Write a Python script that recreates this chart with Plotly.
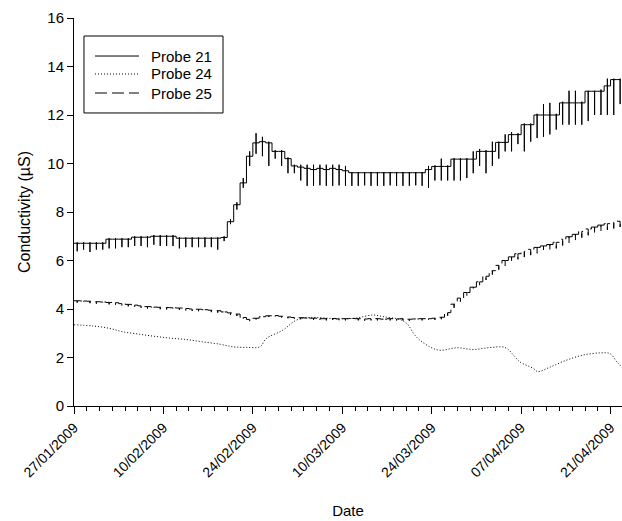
import pandas as pd
import plotly.graph_objects as go

# ---------------- data ----------------
start_date = "2009-01-27"
series_names = ["Probe 21", "Probe 24", "Probe 25"]

# Probe 21: daily level, daily downward spike minimum and upward excursion maximum
p21_day = list(range(0, 86))
p21_level = [6.71, 6.71, 6.71, 6.71, 6.71, 6.88, 6.88, 6.88, 6.88, 6.96,
             6.96, 6.96, 7.00, 7.00, 7.00, 7.00, 6.92, 6.92, 6.92, 6.92,
             6.92, 6.92, 6.92, 6.95, 7.60, 8.30, 9.20, 10.30, 10.85, 10.90,
             10.85, 10.50, 10.50, 10.20, 9.90, 9.85, 9.80, 9.75, 9.80, 9.75,
             9.80, 9.75, 9.70, 9.62, 9.62, 9.62, 9.62, 9.62, 9.62, 9.62,
             9.62, 9.62, 9.62, 9.62, 9.62, 9.75, 9.88, 9.88, 9.88, 10.18,
             10.18, 10.18, 10.18, 10.50, 10.50, 10.50, 10.87, 10.87, 11.19, 11.19,
             11.60, 11.60, 12.00, 12.00, 12.00, 12.00, 12.50, 12.50, 12.50, 12.50,
             12.98, 12.98, 12.98, 13.20, 13.46, 13.46]
p21_low = [6.38, 6.45, 6.35, 6.45, 6.45, 6.50, 6.50, 6.55, 6.55, 6.60,
           6.60, 6.55, 6.65, 6.60, 6.60, 6.60, 6.50, 6.55, 6.55, 6.55,
           6.55, 6.55, 6.45, 6.80, 7.50, 8.10, 9.00, 9.90, 10.40, 10.30,
           9.90, 10.20, 9.90, 9.60, 9.60, 9.30, 9.08, 9.08, 9.10, 9.08,
           9.08, 9.10, 9.08, 9.08, 9.08, 9.10, 9.08, 9.08, 9.08, 9.10,
           9.08, 9.08, 9.08, 9.10, 9.08, 9.00, 9.30, 9.30, 9.30, 9.30,
           9.30, 9.40, 9.60, 9.90, 9.60, 9.90, 10.20, 10.50, 10.50, 10.80,
           10.50, 10.90, 11.05, 11.10, 11.20, 11.40, 11.60, 11.60, 11.60, 11.60,
           11.75, 12.00, 12.00, 12.00, 12.00, 12.45]
p21_high = [6.75, 6.75, 6.75, 6.75, 6.75, 6.92, 6.92, 6.92, 6.92, 7.00,
            7.00, 7.00, 7.05, 7.05, 7.05, 7.05, 6.95, 6.95, 6.95, 6.95,
            6.95, 6.95, 6.95, 7.00, 7.70, 8.40, 9.40, 10.50, 11.25, 11.10,
            10.90, 10.55, 10.55, 10.25, 9.95, 9.95, 9.95, 9.95, 9.95, 9.95,
            9.95, 9.95, 9.90, 9.65, 9.65, 9.65, 9.65, 9.65, 9.65, 9.65,
            9.65, 9.65, 9.65, 9.65, 9.65, 9.90, 9.92, 10.20, 9.92, 10.22,
            10.22, 10.22, 10.50, 10.60, 10.55, 10.90, 10.90, 11.20, 11.30, 11.25,
            11.65, 11.65, 12.05, 12.45, 12.50, 12.05, 12.55, 13.00, 13.00, 12.55,
            13.00, 13.00, 13.05, 13.50, 13.50, 13.50]

# Probe 24: smooth curve, (day offset, value)
p24_day = [0, 3, 5.6, 7.6, 10, 12.4, 15, 17.6, 20, 22.8,
           24.9, 27, 29.1, 30.1, 32.7, 34.8, 36.9, 41.1, 44, 46.8,
           48.5, 51, 52.1, 53.6, 55.7, 57.3, 59.9, 62.5, 65.1, 67.5,
           68.8, 69.8, 71.9, 72.6, 74.5, 77.1, 79.7, 82.4, 83.9, 85.0, 85.8]
p24_value = [3.35, 3.30, 3.20, 3.06, 2.97, 2.88, 2.80, 2.74, 2.65, 2.55,
             2.44, 2.42, 2.44, 2.78, 3.13, 3.54, 3.65, 3.60, 3.62, 3.75,
             3.68, 3.57, 3.40, 2.85, 2.44, 2.30, 2.40, 2.33, 2.41, 2.41,
             2.10, 1.82, 1.55, 1.42, 1.60, 1.89, 2.10, 2.19, 2.16, 1.82, 1.60]

# Probe 25: daily level and small downward spike minimum
p25_day = list(range(0, 86))
p25_level = [4.34, 4.33, 4.32, 4.30, 4.29, 4.27, 4.26, 4.22, 4.19, 4.16,
             4.13, 4.10, 4.08, 4.07, 4.06, 4.05, 4.04, 4.02, 4.00, 3.99,
             3.97, 3.95, 3.93, 3.88, 3.84, 3.79, 3.65, 3.57, 3.62, 3.68,
             3.72, 3.73, 3.70, 3.67, 3.65, 3.64, 3.63, 3.62, 3.60, 3.60,
             3.61, 3.59, 3.60, 3.61, 3.60, 3.59, 3.60, 3.60, 3.58, 3.60,
             3.59, 3.60, 3.58, 3.59, 3.60, 3.60, 3.62, 3.66, 3.85, 4.20,
             4.45, 4.68, 4.90, 5.12, 5.35, 5.58, 5.80, 6.00, 6.15, 6.28,
             6.38, 6.46, 6.54, 6.60, 6.66, 6.75, 6.88, 6.98, 7.08, 7.20,
             7.30, 7.38, 7.46, 7.52, 7.58, 7.62]
p25_low = [4.26, 4.25, 4.24, 4.22, 4.21, 4.19, 4.18, 4.14, 4.11, 4.08,
           4.05, 4.02, 4.00, 3.99, 3.98, 3.97, 3.96, 3.94, 3.92, 3.91,
           3.89, 3.87, 3.85, 3.80, 3.76, 3.71, 3.58, 3.50, 3.57, 3.63,
           3.67, 3.68, 3.65, 3.62, 3.60, 3.58, 3.56, 3.55, 3.53, 3.53,
           3.55, 3.52, 3.53, 3.55, 3.53, 3.52, 3.53, 3.53, 3.51, 3.53,
           3.52, 3.53, 3.51, 3.52, 3.53, 3.53, 3.55, 3.58, 3.72, 4.05,
           4.30, 4.52, 4.75, 4.97, 5.20, 5.42, 5.62, 5.78, 5.92, 6.05,
           6.14, 6.22, 6.30, 6.36, 6.42, 6.50, 6.62, 6.72, 6.82, 6.94,
           7.04, 7.12, 7.20, 7.26, 7.32, 7.38]

tick_labels = ["27/01/2009", "10/02/2009", "24/02/2009", "10/03/2009",
               "24/03/2009", "07/04/2009", "21/04/2009"]
x_end = "2009-04-22 19:00"

# ---------------- build traces ----------------
base = pd.Timestamp(start_date)


def to_dates(days):
    return [base + pd.Timedelta(days=float(d)) for d in days]


def spiky(days, level, low, high=None):
    xs, ys = [], []
    for i, d in enumerate(days):
        hi = level[i] if high is None else high[i]
        xs += [d, d + 0.5, d + 0.5, d + 0.5, d + 0.5]
        ys += [level[i], level[i], low[i], hi, level[i]]
    return to_dates(xs), ys


x21, y21 = spiky(p21_day, p21_level, p21_low, p21_high)
x25, y25 = spiky(p25_day, p25_level, p25_low)

font_family = "Liberation Sans, Arial, sans-serif"
dash_styles = ["solid", "1px,2px", "12px,5px"]

fig = go.Figure()
fig.add_trace(go.Scatter(x=x21, y=y21, mode="lines", name=series_names[0],
                         line=dict(color="black", width=1, shape="hv", dash=dash_styles[0])))
fig.add_trace(go.Scatter(x=to_dates(p24_day), y=p24_value, mode="lines",
                         name=series_names[1], line_shape="spline",
                         line=dict(color="black", width=1, dash=dash_styles[1])))
fig.add_trace(go.Scatter(x=x25, y=y25, mode="lines", name=series_names[2],
                         line=dict(color="black", width=1, dash=dash_styles[2], shape="hv")))

tick_dates = [pd.to_datetime(t, format="%d/%m/%Y") for t in tick_labels]

# legend box drawn in paper coordinates (framed box, line samples, labels)
shapes = [dict(type="rect", xref="paper", yref="paper",
               x0=0.0182, x1=0.2719, y0=0.7552, y1=0.9536,
               line=dict(color="black", width=1), fillcolor="white", layer="above")]
annotations = []
legend_rows = [0.902, 0.8557, 0.8067]
for name, dash, yrow in zip(series_names, dash_styles, legend_rows):
    shapes.append(dict(type="line", xref="paper", yref="paper",
                       x0=0.0383, x1=0.1186, y0=yrow, y1=yrow,
                       line=dict(color="black", width=1, dash=dash), layer="above"))
    annotations.append(dict(text=name, xref="paper", yref="paper",
                            x=0.1369, y=yrow, xanchor="left", yanchor="middle",
                            showarrow=False, font=dict(size=15, color="black")))

fig.update_layout(
    width=622, height=521,
    margin=dict(l=74, r=0, t=18, b=115),
    paper_bgcolor="white", plot_bgcolor="white",
    font=dict(family=font_family, size=15, color="black"),
    showlegend=False,
    shapes=shapes,
    annotations=annotations,
    xaxis=dict(
        range=[base, pd.Timestamp(x_end)],
        tickvals=tick_dates, ticktext=tick_labels, tickangle=-45,
        ticks="outside", ticklen=7, tickcolor="black", tickwidth=1,
        minor=dict(dtick=2 * 86400000, tick0=start_date, ticks="outside",
                   ticklen=4, tickcolor="black", showgrid=False),
        showline=True, linecolor="black", linewidth=1,
        showgrid=False, zeroline=False,
        title=dict(text="Date", font=dict(size=15), standoff=26),
        tickfont=dict(size=14),
        automargin=False,
    ),
    yaxis=dict(
        range=[0, 16], tickvals=[0, 2, 4, 6, 8, 10, 12, 14, 16],
        ticks="outside", ticklen=6, tickcolor="black",
        showline=True, linecolor="black", linewidth=1,
        showgrid=False, zeroline=False,
        title=dict(text="Conductivity (µS)", font=dict(size=16), standoff=12),
        tickfont=dict(size=15),
        automargin=False,
    ),
)

# remove the default page margin so the 622x521 figure fills the window exactly
fig.write_html("out.html",
               config={"displayModeBar": False},
               post_script="document.body.style.margin='0';document.body.style.overflow='hidden';")
